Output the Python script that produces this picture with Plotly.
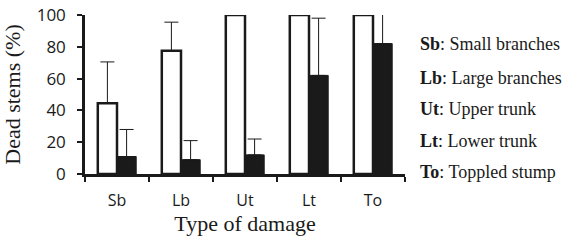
import plotly.graph_objects as go

categories = ["Sb", "Lb", "Ut", "Lt", "To"]
white_values = [44.5, 77.5, 100, 100, 100]
white_err = [26, 18, 0, 0, 0]
black_values = [11, 9, 12, 62, 82]
black_err = [17, 12, 10, 36, 25]
legend_abbr = ["Sb", "Lb", "Ut", "Lt", "To"]
legend_text = ["Small branches", "Large branches", "Upper trunk", "Lower trunk", "Toppled stump"]
legend_y = [44, 78, 109, 141, 172]

fig = go.Figure()
fig.add_trace(go.Bar(
    x=categories, y=white_values,
    marker=dict(color="white", line=dict(color="#1a1a1a", width=2.5)),
    error_y=dict(type="data", array=white_err, symmetric=False, arrayminus=[0]*5,
                 color="#1a1a1a", thickness=1, width=7),
    cliponaxis=True,
))
fig.add_trace(go.Bar(
    x=categories, y=black_values,
    marker=dict(color="#1a1a1a", line=dict(color="#1a1a1a", width=1)),
    error_y=dict(type="data", array=black_err, symmetric=False, arrayminus=[0]*5,
                 color="#1a1a1a", thickness=1, width=7),
    cliponaxis=True,
))

W, H = 568, 242
L, T = 85, 15
PW, PH = 320, 159
R = W - L - PW
B = H - T - PH
for a, t, yy in zip(legend_abbr, legend_text, legend_y):
    fig.add_annotation(
        x=(418 - L) / PW, xref="paper",
        y=1 - (yy - T) / PH, yref="paper",
        text=f"<b>{a}</b>: {t}", showarrow=False, xanchor="left", yanchor="middle",
        font=dict(family="Liberation Serif", size=18, color="#1a1a1a"),
    )

fig.update_layout(
    width=W, height=H,
    margin=dict(l=L, r=R, t=T, b=B, autoexpand=False),
    paper_bgcolor="white", plot_bgcolor="white",
    showlegend=False,
    bargap=0.4, bargroupgap=0,
    xaxis=dict(
        type="category", range=[-0.5, 4.5], automargin=False,
        showline=True, linecolor="#1a1a1a", linewidth=2.5,
        ticks="outside", tickson="boundaries", ticklen=5, tickwidth=2, tickcolor="#1a1a1a",
        tickfont=dict(family="Open Sans", size=16, color="#1a1a1a"),
        ticklabelstandoff=10,
        showgrid=False,
        title=dict(text="Type of damage", font=dict(family="Liberation Serif", size=22, color="#1a1a1a"), standoff=2),
    ),
    yaxis=dict(
        range=[0, 100], tickvals=[0, 20, 40, 60, 80, 100], automargin=False,
        showline=True, linecolor="#1a1a1a", linewidth=2.5,
        ticks="outside", ticklen=5, tickwidth=2, tickcolor="#1a1a1a",
        tickfont=dict(family="Open Sans", size=17, color="#1a1a1a"),
        ticklabelstandoff=8,
        showgrid=False, zeroline=False,
        title=dict(text="Dead stems (%)", font=dict(family="Liberation Serif", size=22, color="#1a1a1a"), standoff=10),
    ),
)

fig.write_html("out.html", config={"displayModeBar": False},
               post_script="document.body.style.margin='0';document.body.style.overflow='hidden';")
